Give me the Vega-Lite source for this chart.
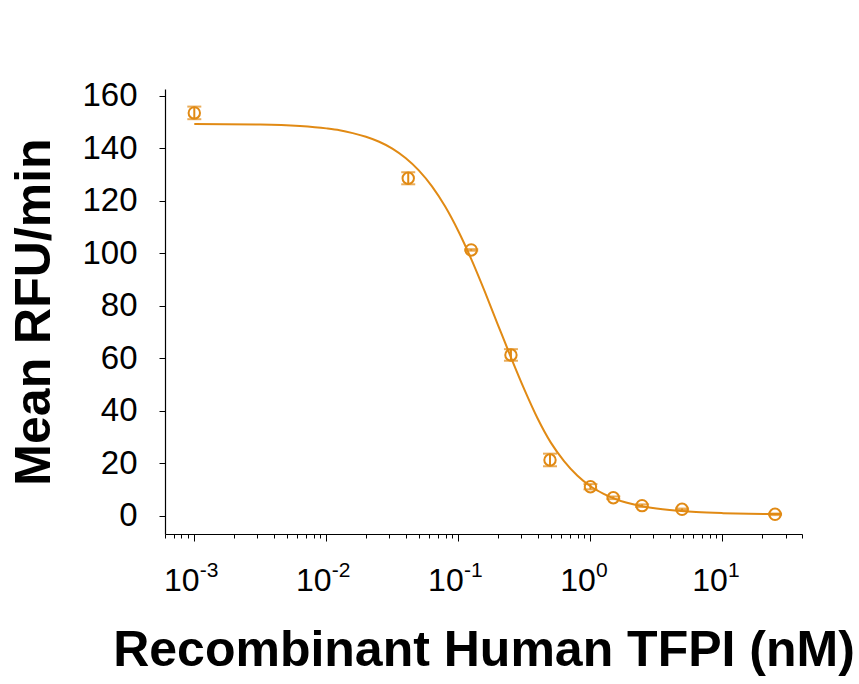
{
  "$schema": "https://vega.github.io/schema/vega-lite/v6.json",
  "autosize": "none",
  "width": 637,
  "height": 445,
  "padding": {"left": 165, "top": 89, "right": 57, "bottom": 150},
  "background": "white",
  "config": {
    "view": {"stroke": null},
    "font": "Liberation Sans",
    "axis": {
      "domainColor": "black",
      "tickColor": "black",
      "labelColor": "black",
      "titleColor": "black",
      "grid": false,
      "labelFont": "Liberation Sans",
      "titleFont": "Liberation Sans"
    }
  },
  "datasets": {
    "pts": [
      {"x": 0.001, "y": 153.4, "lo": 151.0, "hi": 155.8},
      {"x": 0.0417, "y": 128.5, "lo": 126.2, "hi": 130.8},
      {"x": 0.125, "y": 101.2, "lo": 100.9, "hi": 101.5},
      {"x": 0.25, "y": 61.2, "lo": 59.0, "hi": 63.4},
      {"x": 0.494, "y": 21.2, "lo": 18.8, "hi": 23.6},
      {"x": 1.0, "y": 11.0, "lo": 10.0, "hi": 12.0},
      {"x": 1.49, "y": 6.8, "lo": 6.3, "hi": 7.3},
      {"x": 2.46, "y": 3.8, "lo": 3.3, "hi": 4.3},
      {"x": 4.94, "y": 2.4, "lo": 2.1, "hi": 2.7},
      {"x": 25.0, "y": 0.5, "lo": 0.2, "hi": 0.8}
    ],
    "curve": [
      {"x": 0.001, "y": 149.2},
      {"x": 0.003162, "y": 149.0},
      {"x": 0.00631, "y": 148.4},
      {"x": 0.01, "y": 147.5},
      {"x": 0.01259, "y": 146.8},
      {"x": 0.01585, "y": 145.7},
      {"x": 0.01995, "y": 144.3},
      {"x": 0.02512, "y": 142.4},
      {"x": 0.03162, "y": 139.8},
      {"x": 0.03981, "y": 136.2},
      {"x": 0.05012, "y": 131.5},
      {"x": 0.0631, "y": 125.4},
      {"x": 0.07943, "y": 117.7},
      {"x": 0.1, "y": 108.3},
      {"x": 0.1259, "y": 97.4},
      {"x": 0.1585, "y": 85.3},
      {"x": 0.1995, "y": 72.6},
      {"x": 0.2512, "y": 60.0},
      {"x": 0.3162, "y": 48.0},
      {"x": 0.3981, "y": 37.0},
      {"x": 0.5012, "y": 27.8},
      {"x": 0.631, "y": 20.8},
      {"x": 0.7943, "y": 15.3},
      {"x": 1.0, "y": 11.2},
      {"x": 1.259, "y": 8.3},
      {"x": 1.585, "y": 6.1},
      {"x": 1.995, "y": 4.6},
      {"x": 2.512, "y": 3.5},
      {"x": 3.162, "y": 2.7},
      {"x": 3.981, "y": 2.1},
      {"x": 6.31, "y": 1.35},
      {"x": 10.0, "y": 0.95},
      {"x": 15.85, "y": 0.72},
      {"x": 28.18, "y": 0.6}
    ]
  },
  "resolve": {"axis": {"x": "independent"}},
  "encoding": {
    "x": {
      "field": "x",
      "type": "quantitative",
      "scale": {"type": "log", "domain": [0.0006, 40], "nice": false},
      "axis": null
    },
    "y": {
      "field": "y",
      "type": "quantitative",
      "scale": {"domain": [-7, 162.5], "nice": false, "zero": false},
      "axis": {
        "title": "Mean RFU/min",
        "titleFontSize": 50,
        "titleFontWeight": "bold",
        "titlePadding": 22,
        "values": [0, 20, 40, 60, 80, 100, 120, 140, 160],
        "labelFontSize": 33,
        "labelPadding": 22,
        "tickSize": 6,
        "tickWidth": 1,
        "domainWidth": 1.2
      }
    }
  },
  "layer": [
    {
      "data": {"name": "curve"},
      "mark": {"type": "line", "color": "#E18A14", "strokeWidth": 2, "interpolate": "monotone"},
      "encoding": {
        "x": {
          "field": "x",
          "type": "quantitative",
          "scale": {"type": "log", "domain": [0.0006, 40], "nice": false},
          "axis": {
            "orient": "bottom",
            "title": "Recombinant Human TFPI (nM)",
            "titleFontSize": 50,
            "titleFontWeight": "bold",
            "titlePadding": 29,
            "values": [0.0006, 0.0007, 0.0008, 0.0009, 0.001, 0.002, 0.003, 0.004, 0.005, 0.006, 0.007, 0.008, 0.009, 0.01, 0.02, 0.03, 0.04, 0.05, 0.06, 0.07, 0.08, 0.09, 0.1, 0.2, 0.3, 0.4, 0.5, 0.6, 0.7, 0.8, 0.9, 1, 2, 3, 4, 5, 6, 7, 8, 9, 10, 20, 30, 40],
            "labelExpr": "datum.value == 0.001 || datum.value == 0.01 || datum.value == 0.1 || datum.value == 1 || datum.value == 10 ? '10' : ''",
            "labelFontSize": 32,
            "labelPadding": 24,
            "labelOffset": -13,
            "labelOverlap": false,
            "labelFlush": false,
            "tickSize": {"condition": {"test": "abs(log(datum.value) / LN10 - round(log(datum.value) / LN10)) < 0.000001", "value": 7}, "value": 4},
            "tickWidth": 1,
            "domainWidth": 1.2
          }
        }
      }
    },
    {
      "data": {"name": "pts"},
      "mark": {"type": "rule", "color": "#E18A14", "strokeWidth": 2},
      "encoding": {
        "y": {"field": "lo", "type": "quantitative"},
        "y2": {"field": "hi"}
      }
    },
    {
      "data": {"name": "pts"},
      "transform": [{"fold": ["lo", "hi"], "as": ["end", "v"]}],
      "mark": {"type": "tick", "orient": "horizontal", "color": "#E18A14", "size": 14, "thickness": 2},
      "encoding": {
        "y": {"field": "v", "type": "quantitative"}
      }
    },
    {
      "data": {"name": "pts"},
      "mark": {"type": "point", "shape": "circle", "filled": false, "color": "#E18A14", "size": 130, "strokeWidth": 2, "opacity": 1},
      "encoding": {
        "x": {
          "field": "x",
          "type": "quantitative",
          "scale": {"type": "log", "domain": [0.0006, 40], "nice": false},
          "axis": {
            "orient": "bottom",
            "title": null,
            "domain": false,
            "ticks": false,
            "tickSize": 0,
            "values": [0.001, 0.01, 0.1, 1, 10],
            "labelExpr": "datum.value == 0.001 ? '-3' : datum.value == 0.01 ? '-2' : datum.value == 0.1 ? '-1' : datum.value == 1 ? '0' : '1'",
            "labelFontSize": 21,
            "labelAlign": "left",
            "labelPadding": 25,
            "labelOffset": 5,
            "labelOverlap": false,
            "labelFlush": false
          }
        }
      }
    }
  ]
}
